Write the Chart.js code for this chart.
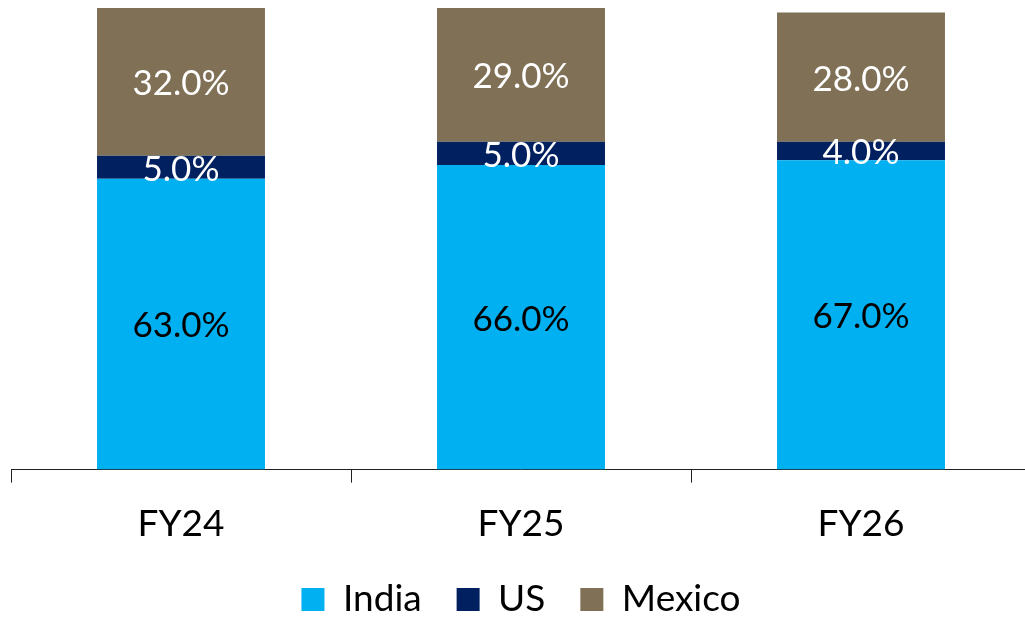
<!DOCTYPE html>
<html>
<head>
<meta charset="utf-8">
<script src="https://cdn.jsdelivr.net/npm/chart.js@4/dist/chart.umd.min.js"></script>
<style>
  html, body { margin: 0; padding: 0; background: #fff; overflow: hidden; }
  #wrap { width: 1032px; height: 617px; }
</style>
</head>
<body>
<div id="wrap"><canvas id="mixChart"></canvas></div>
<script>
const years = ['FY24', 'FY25', 'FY26'];
const india = [63, 66, 67];
const us = [5, 5, 4];
const mexico = [32, 29, 28];

const FONT = 'Lato, "Open Sans", sans-serif';

// draws the % inside each segment
const segmentLabels = {
    id: 'segmentLabels',
    afterDatasetsDraw(chart) {
        const ctx = chart.ctx;
        ctx.save();
        ctx.font = '35px ' + FONT;
        ctx.textAlign = 'center';
        ctx.textBaseline = 'middle';
        chart.data.datasets.forEach((ds, i) => {
            const meta = chart.getDatasetMeta(i);
            meta.data.forEach((bar, j) => {
                const y = (bar.y + bar.base) / 2;
                ctx.fillStyle = ds.labelColor;
                ctx.fillText(ds.data[j].toFixed(1) + '%', bar.x, y + 2);
            });
        });
        ctx.restore();
    }
};

new Chart(document.getElementById('mixChart'), {
    type: 'bar',
    data: {
        labels: years,
        datasets: [
            { label: 'India', data: india, backgroundColor: '#00B0F0', labelColor: '#000000' },
            { label: 'US', data: us, backgroundColor: '#002060', labelColor: '#FFFFFF' },
            { label: 'Mexico', data: mexico, backgroundColor: '#807056', labelColor: '#FFFFFF' }
        ]
    },
    options: {
        responsive: true,
        maintainAspectRatio: false,
        animation: false,
        layout: { padding: { left: 11, right: 1, top: 8, bottom: -11 } },
        datasets: {
            bar: { categoryPercentage: 1, barPercentage: 0.494, borderWidth: 0 }
        },
        scales: {
            x: {
                stacked: true,
                grid: { drawOnChartArea: false, drawTicks: true, tickLength: 13, color: '#231F20', lineWidth: 1 },
                border: { display: true, color: '#231F20', width: 1 },
                ticks: { color: '#000', font: { family: FONT, size: 37 }, padding: 19 }
            },
            y: { stacked: true, display: false, min: 0, max: 100 }
        },
        plugins: {
            legend: {
                position: 'bottom',
                labels: {
                    color: '#000',
                    font: { family: FONT, size: 37 },
                    boxWidth: 23,
                    boxHeight: 23,
                    padding: 16,
                    // a bit more room after India and US, like the original
                    generateLabels(chart) {
                        const items = Chart.defaults.plugins.legend.labels.generateLabels(chart);
                        items.forEach((it, i) => {
                            if (i < items.length - 1) it.text += '  ';
                        });
                        return items;
                    }
                }
            },
            tooltip: { enabled: false }
        }
    },
    plugins: [segmentLabels]
});
</script>
</body>
</html>
